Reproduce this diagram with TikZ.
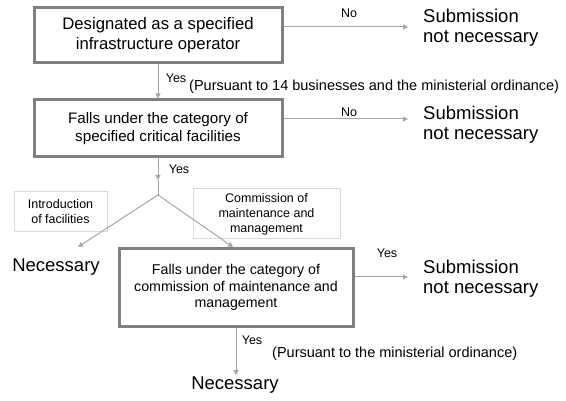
\documentclass[tikz,border=0pt]{standalone}
\usepackage{fontspec}
\setmainfont{Liberation Sans}
\usetikzlibrary{arrows.meta,calc}
\definecolor{boxgray}{HTML}{7F7F7F}
\definecolor{linegray}{HTML}{A6A6A6}
\definecolor{thingray}{HTML}{D9D9D9}
\begin{document}
\begin{tikzpicture}[x=1pt,y=-1pt,
  mainbox/.style={draw=boxgray, line width=3pt, align=center, inner sep=0pt, text=black},
  conn/.style={draw=linegray, line width=1pt},
  arr/.style={conn, -{Triangle[length=5pt,width=5pt]}},
  small/.style={font=\fontsize{12.5}{15}\selectfont, inner sep=0pt},
  pursuant/.style={font=\fontsize{14.5}{16}\selectfont, inner sep=0pt, anchor=west},
  big/.style={font=\fontsize{18.5}{20}\selectfont, inner sep=0pt, align=left},
  notebox/.style={draw=thingray, line width=1pt, align=center, inner sep=0pt, font=\fontsize{12.5}{15}\selectfont}]
\useasboundingbox (0,0) rectangle (566,401);

% main boxes
\node[mainbox, minimum width=248pt, minimum height=55pt, font=\fontsize{16.7}{20}\selectfont] (b1) at (158,35.5) {Designated as a specified\\infrastructure operator};
\node[mainbox, minimum width=248pt, minimum height=57pt, font=\fontsize{15.2}{18}\selectfont] (b2) at (158,128.5) {Falls under the category of\\specified critical facilities};
\node[mainbox, minimum width=234pt, minimum height=78pt, font=\fontsize{14.2}{16.5}\selectfont] (b3) at (236,287.5) {Falls under the category of\\commission of maintenance and\\management};

% outcome texts
\node[big, anchor=west] (s1) at (423,28) {Submission\\not necessary};
\node[big, anchor=west] (s2) at (423,125) {Submission\\not necessary};
\node[big, anchor=west] (s3) at (423,279) {Submission\\not necessary};
\node[big, anchor=base] (n1) at (56,272) {Necessary};
\node[big, anchor=base] (n2) at (235,390) {Necessary};

% note boxes
\node[notebox, minimum width=93pt, minimum height=40pt] (intro) at (60.5,212) {Introduction\\of facilities};
\node[notebox, minimum width=147pt, minimum height=50pt] (comm) at (266.5,214) {Commission of\\maintenance and\\management};

% connectors
\coordinate (t1) at (408,27);
\coordinate (t2) at (408,119);
\coordinate (t5) at (408,277);
\coordinate (m) at (158,180);
\coordinate (br) at (158,195);
\coordinate (nl) at (78,247);
\coordinate (t6) at (236,375);

\draw[arr] (b1.east |- t1) -- (t1);
\draw[arr] (b2.east |- t2) -- (t2);
\draw[arr] (b1.south) -- (b2.north);
\draw[arr] (b2.south) -- (m);
\draw[conn] (m) -- (br);
\draw[arr] (br) -- (nl);
\draw[arr] (br) -- ($(b3.north)+(-3,0)$);
\draw[arr] (b3.east |- t5) -- (t5);
\draw[arr] (b3.south) -- (t6);

% labels
\node[small] (no1) at (349,13) {No};
\node[small] (no2) at (349,112) {No};
\node[small] (y1) at (176,78) {Yes};
\node[pursuant] (p1) at (189,87) {(Pursuant to 14 businesses and the ministerial ordinance)};
\node[small] (y2) at (179,169) {Yes};
\node[small] (y3) at (387,253) {Yes};
\node[small] (y4) at (252,340) {Yes};
\node[pursuant] (p2) at (272,354) {(Pursuant to the ministerial ordinance)};
\end{tikzpicture}
\end{document}
